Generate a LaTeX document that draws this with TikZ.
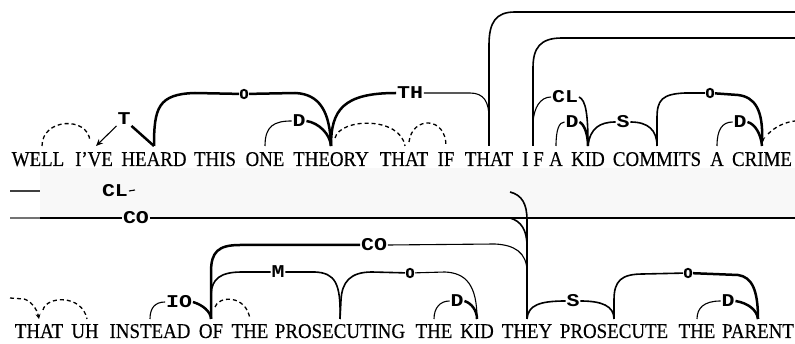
\documentclass[tikz,border=0pt]{standalone}
\usepackage{fontspec}
\setmainfont{Liberation Serif}
\newfontfamily\wordfont[FakeStretch=0.9,FakeBold=0.3]{Liberation Serif}
\newfontfamily\labfont[FakeStretch=1.2]{Liberation Mono}
\newfontfamily\ofont[FakeBold=0.6]{Liberation Mono}
\usetikzlibrary{arrows.meta,calc}
\definecolor{band}{HTML}{F8F8F8}
\begin{document}
\begin{tikzpicture}[x=1pt,y=-1pt,
  word/.style={font=\wordfont\fontsize{21}{21}\selectfont, inner sep=0pt, anchor=base},
  lab/.style={font=\labfont\bfseries\fontsize{18}{18}\selectfont, inner sep=0.8pt},
  olab/.style={font=\ofont\bfseries\fontsize{15}{15}\selectfont, inner sep=0.2pt},
  lk/.style={line width=1.1pt},
  lkm/.style={line width=1.6pt},
  lkh/.style={line width=2.5pt},
  dl/.style={line width=1.3pt, dash pattern=on 4pt off 3pt},
  tip/.style={-{Stealth[length=7pt,width=6pt]}},
  stip/.style={-{Stealth[length=5pt,width=5pt]}}
]
\useasboundingbox (0,0) rectangle (795,344);
\fill[band] (40,168) rectangle (795,218);

% ---------- top sentence ----------
\node[word] (w1) at (38,166) {WELL};
\node[word] (w2) at (94,166) {I’VE};
\node[word] (w3) at (154,166) {HEARD};
\node[word] (w4) at (215,166) {THIS};
\node[word] (w5) at (265,166) {ONE};
\node[word] (w6) at (331,166) {THEORY};
\node[word] (w7) at (404,166) {THAT};
\node[word] (w8) at (446,166) {IF};
\node[word] (w9) at (489,166) {THAT};
\node[word] (w10) at (533,166) {I F};
\node[word] (w11) at (556,166) {A};
\node[word] (w12) at (588,166) {KID};
\node[word] (w13) at (657,166) {COMMITS};
\node[word] (w14) at (717,166) {A};
\node[word] (w15) at (762,166) {CRIME};
\foreach \i in {1,...,15} {\coordinate (a\i) at (w\i.north |- 0,146);}

% ---------- bottom sentence ----------
\node[word] (v1) at (39,338) {THAT};
\node[word] (v2) at (85,338) {UH};
\node[word] (v3) at (150,338) {INSTEAD};
\node[word] (v4) at (211,338) {OF};
\node[word] (v5) at (250,338) {THE};
\node[word] (v6) at (340,338) {PROSECUTING};
\node[word] (v7) at (434,338) {THE};
\node[word] (v8) at (477,338) {KID};
\node[word] (v9) at (527,338) {THEY};
\node[word] (v10) at (614,338) {PROSECUTE};
\node[word] (v11) at (697,338) {THE};
\node[word] (v12) at (758,338) {PARENT};
\foreach \i in {1,...,12} {\coordinate (b\i) at (v\i.north |- 0,319);}

% ---------- labels ----------
\node[lab] (lT) at (124,119) {T};
\node[olab] (lO1) at (244,94) {O};
\node[lab] (lD1) at (299,121) {D};
\node[lab] (lTH) at (410,93) {TH};
\node[lab] (lCL) at (565,97) {CL};
\node[lab] (lD2) at (572,122) {D};
\node[lab] (lS1) at (623,122) {S};
\node[olab] (lO2) at (710,93) {O};
\node[lab] (lD3) at (740,122) {D};

\node[lab] (lCL2) at (115,191) {CL};
\node[lab] (lCO2) at (136,218) {CO};

\node[lab] (lIO) at (179,302) {IO};
\node[lab] (lCO) at (374,245) {CO};
\node[lab] (lM) at (278,272) {M};
\node[olab] (lO3) at (410,273) {O};
\node[lab] (lD4) at (457,301) {D};
\node[lab] (lS2) at (573,301) {S};
\node[olab] (lO4) at (688,273) {O};
\node[lab] (lD5) at (728,301) {D};

\coordinate (r1) at (795,12);
\coordinate (r2) at (795,38);
\coordinate (r3) at (795,121);
\coordinate (l1) at (10,191);
\coordinate (l2) at (10,218);
\coordinate (r4) at (795,218);
\coordinate (m1) at (510,192);
\coordinate (m2) at (510,218);
\coordinate (l3) at (10,298);

% ---------- top links ----------
\draw[dl] ([xshift=4pt]a1) .. controls (42,118) and (88,116) .. ([xshift=-4pt,yshift=5pt]a2);
\draw[lk,tip] (lT.south west) -- ([xshift=2pt]a2);
\draw[lkh] (lT.south east) -- (a3);

\draw[lkh] (a3) .. controls (154,108) and (158,94) .. (195,93) -- (lO1);
\draw[lkh] (lO1) -- (295,93) .. controls (320,94) and (330,112) .. (a6);

\draw[lk] (a5) .. controls (265,126) and (274,121) .. (lD1.west);
\draw[lkh] (lD1.east) .. controls (319,123) and (330,134) .. (a6);

\draw[dl] ([xshift=4pt,yshift=8pt]a6) .. controls (340,118) and (400,116) .. ([xshift=1pt]a7);
\draw[dl] ([xshift=5pt,yshift=4pt]a7) .. controls (412,116) and (446,116) .. (a8);

\draw[lkh] (a6) .. controls (331,110) and (343,93) .. (lTH.west);
\draw[lk] (lTH.east) -- (470,93) .. controls (484,93) and (489,102) .. (a9 |- 0,118);

\draw[lkm] (a9) -- (489,45) .. controls (489,22) and (496,12) .. (515,12) -- (r1);
\draw[lkm] (a10) -- (533,68) .. controls (533,48) and (540,38) .. (562,38) -- (r2);

\draw[lk] (a10 |- 0,122) .. controls (534,108) and (540,97) .. (lCL.west);
\draw[lkm] (lCL.east) .. controls (586,100) and (588,115) .. (a12);

\draw[lk] (a11) .. controls (556,130) and (559,122) .. (lD2.west);
\draw[lkh] (lD2.east) .. controls (584,124) and (588,134) .. (a12);

\draw[lkm] (a12) .. controls (590,128) and (600,122) .. (lS1.west);
\draw[lkm] (lS1.east) .. controls (648,122) and (657,130) .. (a13);

\draw[lkm] (a13) -- (657,118) .. controls (657,100) and (662,94) .. (685,93) -- (lO2);
\draw[lkh,tip] (lO2) -- (738,95) .. controls (755,97) and (763,110) .. ([yshift=2pt]a15);

\draw[lk] (a14) .. controls (717,130) and (722,122) .. (lD3.west);
\draw[lkh] (lD3.east) .. controls (755,124) and (761,134) .. (a15);

\draw[dl] ([xshift=6pt,yshift=12pt]a15) .. controls (776,126) and (786,122) .. (r3);

% ---------- middle band ----------
\draw[lk,black!75] (l1) -- (40,191);
\draw[lk] (lCL2.east) -- ++(6,-1);
\draw[lkm,black!55] (l2) -- (40,218);
\draw[lkm] (40,218) -- (lCO2.west);
\draw[lkm] (lCO2.east) -- (r4);

% ---------- bottom links ----------
\draw[dl,stip] (l3) -- (24,299) .. controls (31,301) and (37,309) .. (b1);
\draw[dl] ([xshift=4pt,yshift=9pt]b1) .. controls (46,296) and (82,294) .. ([xshift=2pt]b2);

\draw[lk] (b3) .. controls (150,308) and (155,302) .. (lIO.west);
\draw[lkh] (lIO.east) .. controls (203,305) and (211,312) .. (b4);

\draw[dl] ([xshift=4pt,yshift=12pt]b4) .. controls (218,296) and (246,294) .. (b5);

\draw[lkh] (b4) -- (211,272) .. controls (211,252) and (218,245) .. (240,245) -- (lCO.west);
\draw[lk] (lCO.east) -- (495,244) .. controls (514,245) and (527,252) .. (b9 |- 0,272);

\draw[lkm] (b4 |- 0,294) .. controls (212,279) and (220,272) .. (242,272) -- (lM.west);
\draw[lkm] (lM.east) -- (315,272) .. controls (335,273) and (341,283) .. (b6);

\draw[lkm] (b6) -- (341,300) .. controls (342,282) and (350,272) .. (372,272) -- (lO3);
\draw[lk] (lO3) -- (445,272) .. controls (466,273) and (477,285) .. (b8);

\draw[lk] (b7) .. controls (434,308) and (440,301) .. (lD4.west);
\draw[lkh] (lD4.east) .. controls (471,303) and (477,310) .. (b8);

\draw[lkm] (m1) .. controls (522,195) and (527,204) .. (527,220) -- (b9);
\draw[lkm] (m2) .. controls (521,221) and (527,230) .. (b9 |- 0,246);

\draw[lkm] (b9) .. controls (528,305) and (540,301) .. (lS2.west);
\draw[lkm] (lS2.east) .. controls (602,301) and (614,306) .. (b10);

\draw[lkm] (b10) -- (614,300) .. controls (614,281) and (621,274) .. (643,274) -- (lO4);
\draw[lkh] (lO4) -- (738,275) .. controls (752,277) and (758,290) .. (b12);

\draw[lk] (b11) .. controls (697,308) and (704,301) .. (lD5.west);
\draw[lkh] (lD5.east) .. controls (748,303) and (757,310) .. (b12);
\end{tikzpicture}
\end{document}
